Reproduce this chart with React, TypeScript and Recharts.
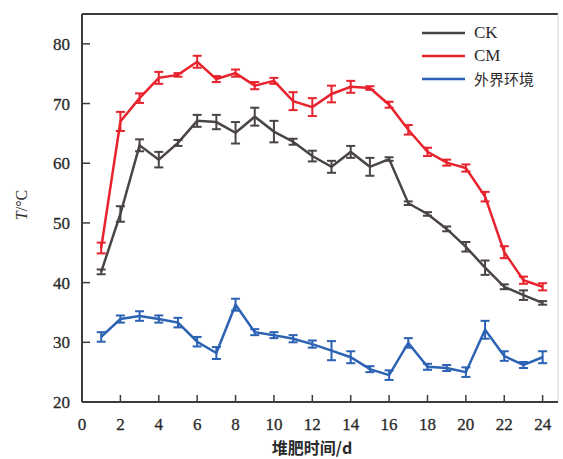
import React from "react";
import { LineChart, Line, XAxis, YAxis, ErrorBar, ReferenceLine } from "recharts";

const days = [1, 2, 3, 4, 5, 6, 7, 8, 9, 10, 11, 12, 13, 14, 15, 16, 17, 18, 19, 20, 21, 22, 23, 24];
const ck = [41.8, 51.5, 63.0, 60.6, 63.4, 67.1, 66.9, 65.1, 67.8, 65.3, 63.6, 61.2, 59.4, 61.9, 59.4, 60.7, 53.3, 51.5, 49.0, 46.0, 42.5, 39.3, 37.9, 36.6];
const ckErr = [0.4, 1.3, 1.0, 1.3, 0.5, 1.0, 1.2, 1.8, 1.5, 1.8, 0.5, 0.9, 1.0, 1.0, 1.5, 0.3, 0.3, 0.3, 0.4, 0.8, 1.2, 0.4, 0.8, 0.3];
const cm = [45.8, 67.0, 70.9, 74.3, 74.8, 77.0, 74.1, 75.1, 73.0, 73.8, 70.4, 69.4, 71.6, 72.8, 72.6, 69.8, 65.6, 61.9, 60.1, 59.2, 54.4, 45.1, 40.4, 39.3];
const cmErr = [0.9, 1.6, 0.8, 1.0, 0.3, 1.0, 0.5, 0.6, 0.6, 0.5, 1.5, 1.5, 1.4, 1.0, 0.3, 0.5, 0.8, 0.7, 0.5, 0.6, 0.8, 1.0, 0.6, 0.6];
const env = [30.9, 33.9, 34.4, 33.9, 33.3, 30.1, 28.2, 36.3, 31.7, 31.2, 30.6, 29.7, 28.6, 27.5, 25.5, 24.5, 29.9, 25.9, 25.7, 25.0, 32.1, 27.7, 26.2, 27.5];
const envErr = [0.8, 0.6, 0.8, 0.6, 0.8, 0.8, 1.0, 1.0, 0.5, 0.5, 0.6, 0.6, 1.6, 1.0, 0.5, 0.8, 0.8, 0.5, 0.5, 0.8, 1.5, 0.8, 0.5, 1.0];
const xTicks = [0, 2, 4, 6, 8, 10, 12, 14, 16, 18, 20, 22, 24];
const yTicks = [20, 30, 40, 50, 60, 70, 80];
const seriesNames = ["CK", "CM", "外界环境"];

const COLORS = ["#4a4446", "#e8232e", "#2b62b3"];
const AXIS = "#3f3a3a";
const SERIF = "'Liberation Serif', 'Times New Roman', serif";

const data = days.map((d, i) => ({
  day: d,
  ck: ck[i],
  ckErr: ckErr[i],
  cm: cm[i],
  cmErr: cmErr[i],
  env: env[i],
  envErr: envErr[i],
}));

const XTick = (props: any) => {
  const { x, y, payload } = props;
  return (
    <g>
      {payload.value !== 0 && (
        <line x1={x} y1={y} x2={x} y2={y - 7} stroke={AXIS} strokeWidth={1.5} />
      )}
      <text x={x} y={y + 28} textAnchor="middle" style={{ fontFamily: SERIF, fontSize: "17px" }} fill="#2a2a2a" stroke="#2a2a2a" strokeWidth={0.3}>
        {payload.value}
      </text>
    </g>
  );
};

const YTick = (props: any) => {
  const { x, y, payload } = props;
  return (
    <g>
      {payload.value !== 20 && (
        <line x1={x} y1={y} x2={x + 8} y2={y} stroke={AXIS} strokeWidth={1.5} />
      )}
      <text x={x - 12} y={y + 6} textAnchor="end" style={{ fontFamily: SERIF, fontSize: "17px" }} fill="#2a2a2a" stroke="#2a2a2a" strokeWidth={0.3}>
        {payload.value}
      </text>
    </g>
  );
};

export default function App() {
  return (
    <div style={{ position: "absolute", left: 0, top: 0, width: 563, height: 459, background: "#fff" }}>
      <LineChart width={563} height={459} data={data} margin={{ top: 14, right: 5, left: 22, bottom: 27 }}>
        <XAxis
          type="number"
          dataKey="day"
          domain={[0, 24.8]}
          ticks={xTicks}
          tick={<XTick />}
          tickLine={false}
          tickSize={0}
          tickMargin={0}
          height={30}
          stroke={AXIS}
          strokeWidth={2}
          interval={0}
        />
        <YAxis
          type="number"
          domain={[20, 85]}
          ticks={yTicks}
          tick={<YTick />}
          tickLine={false}
          tickSize={0}
          tickMargin={0}
          width={60}
          stroke={AXIS}
          strokeWidth={2}
          interval={0}
        />
        <ReferenceLine y={85} stroke={AXIS} strokeWidth={2} />
        <ReferenceLine x={24.8} stroke="#d8d8d8" strokeWidth={1} />
        <Line type="linear" dataKey="ck" stroke={COLORS[0]} strokeWidth={2.5} dot={false} isAnimationActive={false}>
          <ErrorBar dataKey="ckErr" direction="y" width={4.5} stroke={COLORS[0]} strokeWidth={2} isAnimationActive={false} />
        </Line>
        <Line type="linear" dataKey="cm" stroke={COLORS[1]} strokeWidth={2.5} dot={false} isAnimationActive={false}>
          <ErrorBar dataKey="cmErr" direction="y" width={4.5} stroke={COLORS[1]} strokeWidth={2} isAnimationActive={false} />
        </Line>
        <Line type="linear" dataKey="env" stroke={COLORS[2]} strokeWidth={2.5} dot={false} isAnimationActive={false}>
          <ErrorBar dataKey="envErr" direction="y" width={4.5} stroke={COLORS[2]} strokeWidth={2} isAnimationActive={false} />
        </Line>
      </LineChart>
      <div style={{ position: "absolute", left: 418, top: 21, width: 140 }}>
        {seriesNames.map((n, i) => (
          <div key={n} style={{ display: "flex", alignItems: "center", height: 23 }}>
            <svg width={50} height={10}>
              <line x1={4} y1={5} x2={47} y2={5} stroke={COLORS[i]} strokeWidth={2.5} />
            </svg>
            <span
              style={{
                fontFamily: i === 2 ? "'Noto Sans CJK SC', sans-serif" : SERIF,
                fontSize: i === 2 ? 15 : 17,
                color: "#2a2a2a",
                marginLeft: 6,
                lineHeight: 1,
              }}
            >
              {n}
            </span>
          </div>
        ))}
      </div>
      <div
        style={{
          position: "absolute",
          left: 22,
          top: 205,
          transform: "translate(-50%, -50%) rotate(-90deg)",
          fontFamily: SERIF,
          fontSize: 16,
          color: "#2a2a2a",
          whiteSpace: "nowrap",
          lineHeight: 1,
        }}
      >
        <i>T</i>/°C
      </div>
      <div
        style={{
          position: "absolute",
          left: 312,
          top: 447,
          transform: "translate(-50%, -50%)",
          fontFamily: "'Noto Sans CJK SC', sans-serif",
          fontWeight: "bold",
          fontSize: 16,
          color: "#2a2a2a",
          whiteSpace: "nowrap",
          lineHeight: 1,
        }}
      >
        堆肥时间/d
      </div>
    </div>
  );
}
